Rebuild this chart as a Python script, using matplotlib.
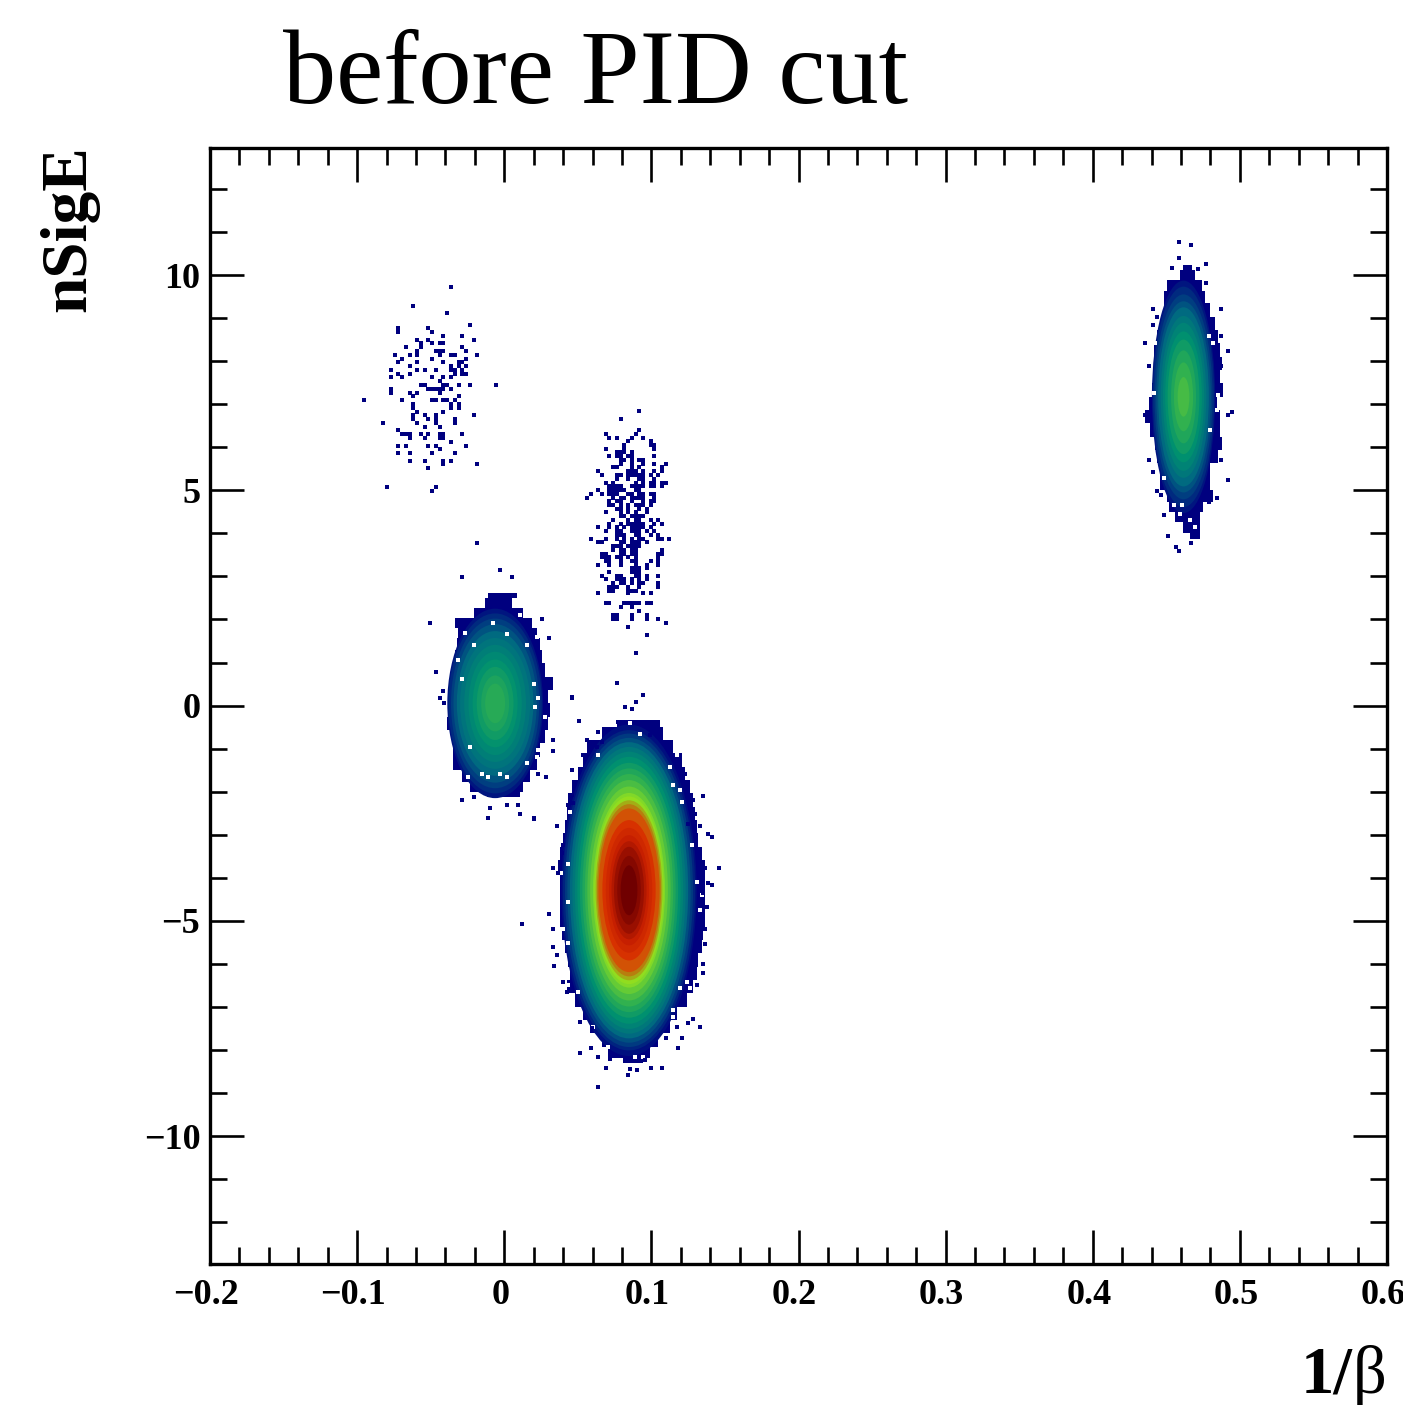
import matplotlib
matplotlib.use('Agg')
import matplotlib.pyplot as plt
from matplotlib.colors import LinearSegmentedColormap
from matplotlib.patches import Ellipse
from matplotlib.ticker import MultipleLocator
from matplotlib.transforms import ScaledTranslation

plt.rcParams['font.family'] = ['Liberation Serif', 'DejaVu Serif']

# density bands: level, half width in 1/beta, half height in nSigE
main_center = (0.0848, -4.29)
main_levels = [0.03, 0.07, 0.11, 0.15, 0.20, 0.25, 0.30, 0.35, 0.40, 0.45, 0.50, 0.55, 0.60, 0.65, 0.68, 0.72, 0.76, 0.80,
               0.85, 0.875, 0.90, 0.925, 0.95, 0.975, 1.0]
main_half_x = [0.0460, 0.0450, 0.0435, 0.0419, 0.0402, 0.0385, 0.0368, 0.0351, 0.0334, 0.0317, 0.0300, 0.0283, 0.0264, 0.0245,
               0.0236, 0.0227, 0.0218, 0.0208, 0.0181, 0.0158, 0.0136, 0.0119, 0.0102, 0.0080, 0.0057]
main_half_y = [3.85, 3.72, 3.64, 3.54, 3.44, 3.33, 3.22, 3.10, 2.96, 2.83, 2.70, 2.56, 2.41, 2.26, 2.18, 2.09, 2.00, 1.90,
               1.63, 1.45, 1.28, 1.14, 1.01, 0.80, 0.58]

electron_center = (-0.0062, 0.05)
electron_levels = [0.04, 0.08, 0.12, 0.16, 0.20, 0.24, 0.28, 0.32, 0.36, 0.40, 0.44, 0.47]
electron_half_x = [0.0325, 0.0317, 0.0300, 0.0283, 0.0260, 0.0238, 0.0210, 0.0181, 0.0153, 0.0125, 0.0095, 0.0068]
electron_half_y = [2.20, 2.09, 1.97, 1.84, 1.68, 1.52, 1.36, 1.20, 1.02, 0.85, 0.65, 0.46]

right_center = (0.4617, 7.17)
right_levels = [0.04, 0.08, 0.12, 0.16, 0.20, 0.25, 0.30, 0.35, 0.40, 0.45, 0.50, 0.54]
right_half_x = [0.0215, 0.0208, 0.0197, 0.0185, 0.0172, 0.0155, 0.0140, 0.0125, 0.0108, 0.0085, 0.0065, 0.0040]
right_half_y = [2.70, 2.56, 2.38, 2.22, 2.08, 1.88, 1.72, 1.52, 1.33, 1.08, 0.80, 0.46]

# outer edge of the filled area, row by row
main_edge_y = [-0.337, -0.647, -0.957, -1.266, -1.576, -1.886, -2.195, -2.505, -2.815, -3.125, -3.434, -3.744, -4.054, -4.363,
               -4.673, -4.983, -5.293, -5.602, -5.912, -6.222, -6.531, -6.841, -7.151, -7.461, -7.77, -8.08, -8.31]
main_edge_l = [0.0764, 0.0662, 0.0560, 0.0537, 0.0504, 0.0458, 0.0436, 0.0424, 0.0413, 0.0402, 0.0379, 0.0368, 0.0379, 0.0379,
               0.0379, 0.0379, 0.0390, 0.0413, 0.0436, 0.0447, 0.0424, 0.0481, 0.0537, 0.0583, 0.0662, 0.0707, 0.0809]
main_edge_r = [0.1059, 0.1081, 0.1149, 0.1206, 0.1228, 0.1262, 0.1285, 0.1296, 0.1308, 0.1319, 0.1342, 0.1364, 0.1364, 0.1364,
               0.1364, 0.1364, 0.1353, 0.1342, 0.1319, 0.1308, 0.1285, 0.1240, 0.1172, 0.1127, 0.1047, 0.0991, 0.0945]

electron_edge_y = [2.605, 2.373, 2.140, 1.908, 1.676, 1.444, 1.134, 0.824, 0.514, 0.205, -0.105, -0.415, -0.724, -1.034,
                   -1.344, -1.654, -1.886, -2.118]
electron_edge_l = [-0.0108, -0.0130, -0.0209, -0.0334, -0.0311, -0.0323, -0.0334, -0.0345, -0.0357, -0.0357, -0.0368, -0.0391,
                   -0.0345, -0.0345, -0.0345, -0.0289, -0.0232, -0.0119]
electron_edge_r = [0.0085, 0.0051, 0.0130, 0.0187, 0.0221, 0.0244, 0.0255, 0.0278, 0.0334, 0.0300, 0.0312, 0.0300, 0.0278, 0.0244,
                   0.0221, 0.0176, 0.0130, 0.0108]

right_edge_y = [10.23, 10.00, 9.77, 9.50, 9.19, 8.88, 8.57, 8.26, 7.95, 7.64, 7.33, 7.02, 6.71, 6.40, 6.09, 5.78, 5.47, 5.16,
                4.85, 4.62, 4.39, 4.15, 3.88]
right_edge_l = [0.4616, 0.4594, 0.4503, 0.4481, 0.4481, 0.4469, 0.4435, 0.4417, 0.4413, 0.4413, 0.4401, 0.4379, 0.4356, 0.4390,
                0.4424, 0.4435, 0.4458, 0.4458, 0.4503, 0.4515, 0.4560, 0.4616, 0.4662]
right_edge_r = [0.4673, 0.4696, 0.4741, 0.4764, 0.4798, 0.4832, 0.4854, 0.4866, 0.4877, 0.4866, 0.4888, 0.4843, 0.4866, 0.4866,
                0.4877, 0.4854, 0.4798, 0.4798, 0.4820, 0.4752, 0.4730, 0.4730, 0.4730]

# single filled cells outside the blobs
stray_x = [0.0769, 0.0458, 0.0945, 0.0895, 0.0821, 0.0871, 0.0510, 0.0639, 0.0560, 0.0458, 0.1353, 0.1330, 0.1387, 0.1410, 0.1462,
           0.1410, 0.0329, 0.0306, 0.0334, 0.0329, 0.0356, 0.0338, 0.1330, 0.1179, 0.1206, 0.1099, 0.0515, 0.0587, 0.0639, 0.0692,
           0.0843, 0.0995, 0.1074, 0.0639, 0.0202, 0.0121,
           -0.0284, 0.0051, -0.0028, 0.0255, 0.0305, -0.0463, -0.0413, -0.0436, -0.0409, 0.0334, 0.0334, 0.0282, 0.0228, -0.0284,
           -0.0209, -0.0096, -0.0108, 0.0022, 0.0096, 0.0108, 0.0203, 0.0357, -0.0504, -0.0185, 0.046,
           0.4589, 0.4666, 0.4589, 0.4537, 0.4718, 0.4771, 0.4771, 0.4408, 0.4435, 0.4408, 0.4870, 0.4870, 0.4922, 0.4356, 0.4383,
           0.4870, 0.4356, 0.4945, 0.4922, 0.4385, 0.4870, 0.4408, 0.4922, 0.4435, 0.4462, 0.4793, 0.4843, 0.4487, 0.4510, 0.4564,
           0.4589, 0.4666]
stray_y = [0.515, 0.166, 0.24, 0.09, -0.03, -0.07, -0.353, -0.61, -0.80, -1.5, -2.10, -2.80, -2.99, -3.06, -3.77,
           -4.17, -3.77, -4.83, -5.18, -5.60, -5.80, -6.05, -7.46, -7.96, -7.71, -7.71, -8.07, -7.96, -8.16, -8.41,
           -8.58, -8.41, -8.41, -8.85, -2.64, -5.08,
           2.98, 2.98, 3.15, 2.01, 1.57, 0.79, 0.34, 0.17, 0.07, -0.79, -1.06, -1.67, -1.58, -2.20,
           -2.12, -2.39, -2.62, -2.31, -2.31, -2.51, -2.62, -2.80, 1.92, 3.77, 0.2,
           10.77, 10.70, 10.39, 10.17, 10.15, 10.26, 9.82, 9.20, 9.02, 8.84, 9.20, 8.58, 8.23, 8.41, 7.89,
           7.89, 6.75, 6.82, 6.75, 5.70, 5.70, 5.43, 5.25, 4.99, 4.90, 4.73, 4.83, 4.42, 3.94, 3.69,
           3.59, 3.77]

# cells that stick out of the main blob's rough edge
bump_x = [0.0775, 0.0900, 0.1047, 0.0991, 0.0662, 0.0628, 0.0537, 0.0458, 0.0470, 0.0436, 0.1172, 0.1228, 0.1251, 0.1285, 0.1296,
          0.1251, 0.0402, 0.0390, 0.0368, 0.1364, 0.1387, 0.1353, 0.1376, 0.1364, 0.1364, 0.1353, 0.1353, 0.1308, 0.0402, 0.0424,
          0.0492, 0.0515, 0.0594, 0.1172, 0.1251, 0.1285, 0.0719, 0.0855, 0.0900, 0.0957]
bump_y = [-0.376, -0.376, -0.415, -0.686, -0.84, -0.96, -1.15, -2.08, -2.27, -2.31, -1.27, -1.58, -1.92, -2.20, -2.51,
          -2.74, -3.24, -3.43, -3.90, -3.78, -4.13, -4.36, -4.67, -5.18, -5.53, -6.0, -6.22, -6.49, -6.42, -6.65,
          -6.92, -7.35, -7.50, -7.46, -7.38, -7.27, -8.20, -8.43, -8.47, -8.24]

# empty cells near the edges of the blobs
hole_x = [0.0436, 0.0383, 0.0436, 0.0402, 0.0436, 0.0504, 0.0436, 0.1278, 0.1308, 0.1342, 0.1330, 0.1194, 0.1206, 0.1149, 0.1127,
          0.1172, 0.0639, 0.0470, 0.0447, 0.0923, 0.0855, 0.1194, 0.1240, 0.1262, 0.1149, 0.1149, 0.0889, 0.0945, 0.0707, 0.0605,
          -0.0209, -0.0284, -0.0311, 0.0022, 0.0153, 0.0203, 0.0226, 0.0210, 0.0278, -0.0232, 0.0153, -0.0153, -0.0028, 0.0022,
          -0.0108, -0.0243, -0.0074, 0.0108, -0.0266, 0.0221, 0.0232, 0.0221,
          0.4791, 0.4820, 0.4424, 0.4413, 0.4848, 0.4843, 0.4481, 0.4549, 0.4605, 0.4594, 0.4662, 0.4696, 0.4798, 0.4786, 0.4526]
hole_y = [-3.69, -3.90, -4.56, -5.18, -5.52, -6.65, -6.49, -3.24, -4.09, -4.40, -4.75, -1.96, -2.23, -1.85, -1.42,
          -1.15, -1.15, -1.58, -2.47, -0.65, -0.41, -6.57, -6.42, -6.57, -7.07, -7.23, -8.16, -8.16, -7.93, -7.46,
          1.40, 0.62, 1.06, 1.66, 1.40, 0.51, 0.17, -0.03, -0.26, -0.96, -1.33, -1.58, -1.58, -1.67,
          -1.67, -1.67, 1.92, 2.10, 1.68, 1.60, -1.03, -1.19,
          8.58, 8.41, 8.41, 7.25, 7.21, 6.86, 5.28, 4.66, 4.66, 4.46, 4.31, 4.15, 6.40, 9.42, 4.23]

# sparse cluster at upper left: one entry per row of cells
sparse_a_y = [9.73, 9.29, 9.11, 8.85, 8.76, 8.67, 8.58, 8.50, 8.41, 8.32, 8.23, 8.14, 8.06, 7.97, 7.89, 7.79, 7.71, 7.62, 7.53,
              7.45, 7.36, 7.27, 7.18, 7.10, 7.00, 6.92, 6.83, 6.75, 6.65, 6.57, 6.48, 6.39, 6.31, 6.22, 6.13, 6.04, 5.96, 5.87,
              5.69, 5.60, 5.51, 5.08, 4.99]
sparse_a_x = [
    [-0.0359], [-0.0618], [-0.0386], [-0.0232], [-0.0719, -0.0516], [-0.0719, -0.0488],
    [-0.0414, -0.0285], [-0.0205, -0.0590, -0.0516],
    [-0.0488, -0.0436, -0.0414, -0.0565], [-0.0565, -0.0667, -0.0285],
    [-0.0260, -0.0463, -0.0436, -0.0414, -0.0590],
    [-0.0436, -0.0590, -0.0744, -0.0642, -0.0359, -0.0334, -0.0183],
    [-0.0695, -0.0488, -0.0260], [-0.0719, -0.0590, -0.0414, -0.0309, -0.0285],
    [-0.0642, -0.0359, -0.0309, -0.0260],
    [-0.0772, -0.0590, -0.0540, -0.0463, -0.0359, -0.0334, -0.0285],
    [-0.0719, -0.0642, -0.0334, -0.0285, -0.0260],
    [-0.0772, -0.0695, -0.0488, -0.0414, -0.0359], [-0.0436],
    [-0.0565, -0.0540, -0.0414, -0.0386, -0.0309, -0.0232, -0.0053],
    [-0.0772, -0.0516, -0.0488, -0.0463, -0.0436, -0.0414, -0.0359],
    [-0.0772, -0.0642, -0.0590, -0.0436], [-0.0618, -0.0309],
    [-0.0953, -0.0695, -0.0488, -0.0463, -0.0414, -0.0386, -0.0334],
    [-0.0618, -0.0359, -0.0309], [-0.0618, -0.0359, -0.0309], [-0.0590, -0.0414],
    [-0.0618, -0.0540, -0.0463, -0.0205], [-0.0618, -0.0516, -0.0463, -0.0334],
    [-0.0821, -0.0590, -0.0463, -0.0334], [-0.0540, -0.0436], [-0.0719],
    [-0.0695, -0.0667, -0.0642, -0.0565, -0.0516, -0.0436, -0.0414, -0.0285],
    [-0.0642, -0.0540, -0.0436, -0.0414], [-0.0359],
    [-0.0719, -0.0667, -0.0516, -0.0463, -0.0260], [-0.0436],
    [-0.0719, -0.0642, -0.0488, -0.0334], [-0.0642, -0.0540, -0.0414, -0.0359],
    [-0.0414, -0.0183], [-0.0516], [-0.0796, -0.0463], [-0.0488],
]

# sparse cluster in the middle
sparse_b_y = [6.84, 6.65, 6.40, 6.31, 6.22, 6.14, 6.05, 5.97, 5.88, 5.79, 5.70, 5.62, 5.53, 5.44, 5.35, 5.27, 5.18, 5.10, 5.01,
              4.92, 4.83, 4.74, 4.66, 4.57, 4.49, 4.40, 4.31, 4.22, 4.14, 4.05, 3.97, 3.87, 3.79, 3.70, 3.62, 3.53, 3.44, 3.36,
              3.27, 3.19, 3.10, 3.02, 2.93, 2.84, 2.75, 2.67, 2.62, 2.39, 2.30, 2.20, 2.11, 2.01, 1.92, 1.83, 1.65, 1.21]
sparse_b_x = [
    [0.0918], [0.0791], [0.0918], [0.0689, 0.0893], [0.0714, 0.0766, 0.0868, 0.0945], [0.0843, 0.0995],
    [0.0816, 0.0995, 0.1020], [0.0689, 0.0816, 0.1020], [0.0766, 0.0791, 0.0816, 0.0868],
    [0.0714, 0.0766, 0.0791, 0.0843, 0.0868, 0.1020], [0.0791, 0.0816, 0.0868, 0.0918, 0.0945],
    [0.0791, 0.0868, 0.0945, 0.1020, 0.1099], [0.0742, 0.0766, 0.0868, 0.0918, 0.1070],
    [0.0640, 0.0843, 0.0868, 0.0893, 0.0945, 0.1020, 0.1070],
    [0.0664, 0.0766, 0.0791, 0.0843, 0.0868, 0.0893, 0.0918, 0.0945, 0.0995, 0.1045],
    [0.0766, 0.0843, 0.0918, 0.0945, 0.1020],
    [0.0689, 0.0742, 0.0893, 0.0945, 0.0995, 0.1020, 0.1070, 0.1099],
    [0.0714, 0.0742, 0.0766, 0.0791, 0.0868, 0.0893, 0.0918, 0.0945, 0.0995, 0.1020, 0.1070],
    [0.0640, 0.0714, 0.0742, 0.0766, 0.0791, 0.0816, 0.0893, 0.0918],
    [0.0587, 0.0664, 0.0714, 0.0742, 0.0766, 0.0843, 0.0868, 0.0918, 0.0945, 0.0995, 0.1020],
    [0.0560, 0.0742, 0.0791, 0.0816, 0.0868, 0.0893, 0.0918, 0.0945, 0.1020],
    [0.0714, 0.0766, 0.0791, 0.0868, 0.0945, 0.0995, 0.1020],
    [0.0714, 0.0742, 0.0791, 0.0843, 0.0893, 0.0918, 0.0945, 0.0995],
    [0.0766, 0.0791, 0.0843, 0.0918, 0.0968], [0.0689, 0.0791, 0.0843, 0.0893, 0.0968],
    [0.0791, 0.0816, 0.0868, 0.0893, 0.0918, 0.0945], [0.0742, 0.0843, 0.0893, 0.0918, 0.0995, 0.1045],
    [0.0714, 0.0791, 0.0843, 0.0868, 0.0893, 0.0918, 0.0945, 0.1020, 0.1070],
    [0.0640, 0.0714, 0.0766, 0.0816, 0.0868, 0.0893, 0.0918, 0.0945, 0.0995],
    [0.0689, 0.0766, 0.0791, 0.0868, 0.0893, 0.0918, 0.0968, 0.1020],
    [0.0766, 0.0791, 0.0816, 0.0893, 0.0918, 0.0995, 0.1045],
    [0.0587, 0.0689, 0.0766, 0.0816, 0.0868, 0.0918, 0.0945, 0.1045, 0.1070, 0.1122],
    [0.0640, 0.0664, 0.0791, 0.0816, 0.0868, 0.0893, 0.0918, 0.0968],
    [0.0742, 0.0766, 0.0791, 0.0843, 0.0868, 0.0893, 0.0918],
    [0.0742, 0.0791, 0.0816, 0.0868, 0.0893, 0.1070],
    [0.0664, 0.0689, 0.0791, 0.0816, 0.0868, 0.0893, 0.1045, 0.1070],
    [0.0664, 0.0689, 0.0714, 0.0766, 0.0791, 0.0843, 0.0893, 0.1045],
    [0.0689, 0.0714, 0.0791, 0.0868, 0.0893, 0.0995, 0.1045],
    [0.0640, 0.0714, 0.0791, 0.0893, 0.0968, 0.1045], [0.0868, 0.0893, 0.0918, 0.0968],
    [0.0714, 0.0868, 0.0893, 0.0918], [0.0664, 0.0766, 0.0791, 0.0893, 0.0918, 0.0968, 0.1045],
    [0.0689, 0.0766, 0.0791, 0.0816, 0.0868, 0.0918, 0.0968],
    [0.0742, 0.0791, 0.0816, 0.0868, 0.0918, 0.0945, 0.1045],
    [0.0714, 0.0742, 0.0766, 0.0843, 0.0918, 0.1045], [0.0714, 0.0742, 0.0843, 0.0868, 0.0893],
    [0.0640, 0.0843, 0.0940, 0.0995], [0.0689, 0.0714, 0.0816, 0.0843, 0.0868, 0.0893, 0.0918, 0.0968, 0.0995],
    [0.0791, 0.0868], [0.0918], [0.0742, 0.0766, 0.0868, 0.0968], [0.0742, 0.0766, 0.0868, 0.0973, 0.1045],
    [0.1099], [0.0843], [0.0973], [0.0893],
]

x_ticks = [-0.2, -0.1, 0, 0.1, 0.2, 0.3, 0.4, 0.5, 0.6]
x_tick_labels = ['\u22120.2', '\u22120.1', '0', '0.1', '0.2', '0.3', '0.4', '0.5', '0.6']
y_ticks = [-10, -5, 0, 5, 10]
y_tick_labels = ['\u221210', '\u22125', '0', '5', '10']

# palette of the density scale
palette = LinearSegmentedColormap.from_list('density', [
    (0.00, '#00007f'), (0.20, '#006a80'), (0.35, '#00906f'), (0.50, '#30b050'),
    (0.62, '#70d030'), (0.68, '#90e020'), (0.75, '#b08a10'), (0.82, '#e03c00'),
    (0.90, '#c82000'), (1.00, '#700000')])
navy = palette(0.0)

fig = plt.figure(figsize=(14.03, 14.05), dpi=100)
ax = fig.add_axes([210 / 1403, (1405 - 1264) / 1405, 1177 / 1403, 1116 / 1405])
ax.set_xlim(-0.2, 0.6)
ax.set_ylim(-12.97, 12.95)


def draw_blob(center, levels, half_x, half_y, edge_y, edge_l, edge_r):
    ax.fill_betweenx(edge_y, edge_l, edge_r, step='mid', color=navy, lw=0, zorder=2)
    for lev, hx, hy in zip(levels, half_x, half_y):
        ax.add_patch(Ellipse(center, 2 * hx, 2 * hy, color=palette(lev), lw=0, zorder=3))


draw_blob(main_center, main_levels, main_half_x, main_half_y, main_edge_y, main_edge_l, main_edge_r)
draw_blob(electron_center, electron_levels, electron_half_x, electron_half_y,
          electron_edge_y, electron_edge_l, electron_edge_r)
draw_blob(right_center, right_levels, right_half_x, right_half_y, right_edge_y, right_edge_l, right_edge_r)

ax.scatter(hole_x, hole_y, s=6, marker='s', color='white', lw=0, zorder=4)
ax.scatter(stray_x + bump_x, stray_y + bump_y, s=10, marker='s', color=navy, lw=0, zorder=5)
for rows_y, rows_x in [(sparse_a_y, sparse_a_x), (sparse_b_y, sparse_b_x)]:
    for y, xs in zip(rows_y, rows_x):
        ax.scatter(xs, [y] * len(xs), s=10, marker='s', color=navy, lw=0, zorder=5)

ax.set_xticks(x_ticks)
ax.set_xticklabels(x_tick_labels)
ax.set_yticks(y_ticks)
ax.set_yticklabels(y_tick_labels)
ax.xaxis.set_minor_locator(MultipleLocator(0.02))
ax.yaxis.set_minor_locator(MultipleLocator(1))
ax.tick_params(which='major', direction='in', top=True, right=True, length=24.5, width=1.9,
               labelsize=26, pad=7)
ax.tick_params(which='minor', direction='in', top=True, right=True, length=12, width=1.9)
ax.tick_params(axis='x', which='major', pad=11)
for s in ax.spines.values():
    s.set_linewidth(2.4)

shift = ScaledTranslation(-4 / 100, 0, fig.dpi_scale_trans)
for lab in ax.get_xticklabels():
    lab.set_fontweight('bold')
    lab.set_transform(lab.get_transform() + shift)
for lab in ax.get_yticklabels():
    lab.set_fontweight('bold')

fig.text(283 / 1403, 1 - 103 / 1405, 'before PID cut', fontsize=76.5, va='baseline', ha='left')
fig.text(69 / 1403, 1 - 229 / 1405, 'nSigE', fontsize=47, fontweight='bold', rotation=90,
         va='center', ha='center')
fig.text(1353 / 1403, 1 - 1393 / 1405, '1/', fontsize=48, fontweight='bold', va='baseline', ha='right')
fig.text(1387 / 1403, 1 - 1393 / 1405, '\u03b2', fontsize=48, va='baseline', ha='right')

fig.savefig('out.png', dpi=100)
